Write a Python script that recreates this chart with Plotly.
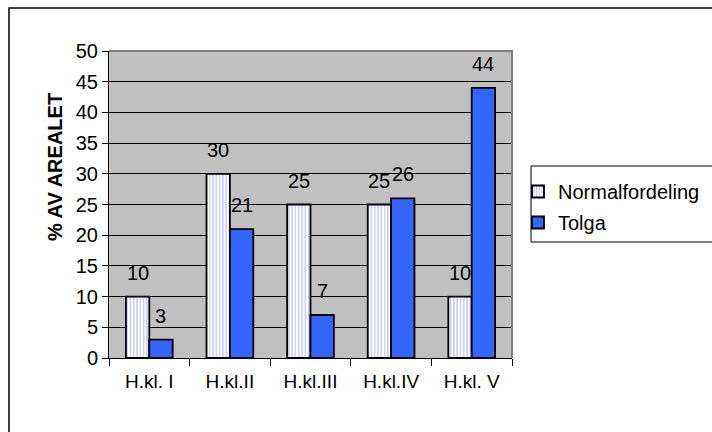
import plotly.graph_objects as go

categories = ["H.kl. I", "H.kl.II", "H.kl.III", "H.kl.IV", "H.kl. V"]
normalfordeling = [10, 30, 25, 25, 10]
tolga = [3, 21, 7, 26, 44]
series_names = ["Normalfordeling", "Tolga"]
y_ticks = list(range(0, 51, 5))

FONT = "Liberation Sans, Arial, sans-serif"
FS = 20
BARGAP = 0.42
bar_w = (1 - BARGAP) / 2

fig = go.Figure()
fig.add_trace(go.Bar(
    x=categories, y=normalfordeling, name=series_names[0],
    legendgroup="a",
    marker=dict(color="white",
                line=dict(color="black", width=1.8),
                pattern=dict(shape="|", fgcolor="#7070FF", bgcolor="white",
                             size=3.3, solidity=0.35, fillmode="overlay")),
))
fig.add_trace(go.Bar(
    x=categories, y=tolga, name=series_names[1],
    legendgroup="b",
    marker=dict(color="#3366FF", line=dict(color="black", width=1.8)),
))

annotations = []
for i, (a, b) in enumerate(zip(normalfordeling, tolga)):
    for val, off in ((a, -bar_w / 2), (b, bar_w / 2)):
        annotations.append(dict(
            x=i + off, y=val, xref="x", yref="y", text=str(val),
            showarrow=False, yanchor="middle", yshift=24,
            font=dict(family=FONT, size=FS, color="black")))

annotations.append(dict(
    x=-0.134, y=0.622, xref="paper", yref="paper", text="<b>% AV AREALET</b>",
    textangle=-90, showarrow=False, xanchor="center", yanchor="middle",
    font=dict(family=FONT, size=20, color="black")))

shapes = [
    dict(type="path", path="M 0 1 L 1 1 L 1 0", xref="paper", yref="paper",
         line=dict(color="#808080", width=2)),
    dict(type="rect", xref="paper", yref="paper",
         x0=(9 - 109) / 403, x1=(716 - 109) / 403,
         y0=(358 - 440) / 307, y1=(358 - 8) / 307,
         line=dict(color="black", width=1.5)),
    dict(type="rect", xref="paper", yref="paper",
         x0=(531 - 109) / 403, x1=(716 - 109) / 403,
         y0=(358 - 242) / 307, y1=(358 - 166) / 307,
         line=dict(color="black", width=1)),
]

fig.update_layout(
    width=712, height=432,
    margin=dict(l=109, r=200, t=51, b=74, autoexpand=False),
    paper_bgcolor="white", plot_bgcolor="#C0C0C0",
    barmode="group", bargap=BARGAP, bargroupgap=0,
    font=dict(family=FONT, size=FS, color="black"),
    showlegend=True,
    legend=dict(x=(518 - 109) / 403, y=(358 - 172) / 307, xanchor="left", yanchor="top",
                bgcolor="rgba(0,0,0,0)", borderwidth=0,
                traceorder="grouped", tracegroupgap=2,
                font=dict(family=FONT, size=FS, color="black")),
    annotations=annotations, shapes=shapes,
)
fig.update_xaxes(type="category", showline=True, linecolor="black", linewidth=1,
                 ticks="outside", tickson="boundaries", ticklen=7, tickcolor="black",
                 ticklabelstandoff=6,
                 showgrid=False, tickfont=dict(family=FONT, size=19, color="black"))
fig.update_yaxes(range=[0, 50], tickvals=y_ticks, showline=True, linecolor="black",
                 linewidth=1, ticks="outside", ticklen=6, tickcolor="black",
                 showgrid=True, gridcolor="black", gridwidth=1, zeroline=False,
                 tickfont=dict(family=FONT, size=FS, color="black"))

fig.write_html("out.html", config={"displayModeBar": False},
               post_script="document.body.style.margin='0';document.body.style.overflow='hidden';")
